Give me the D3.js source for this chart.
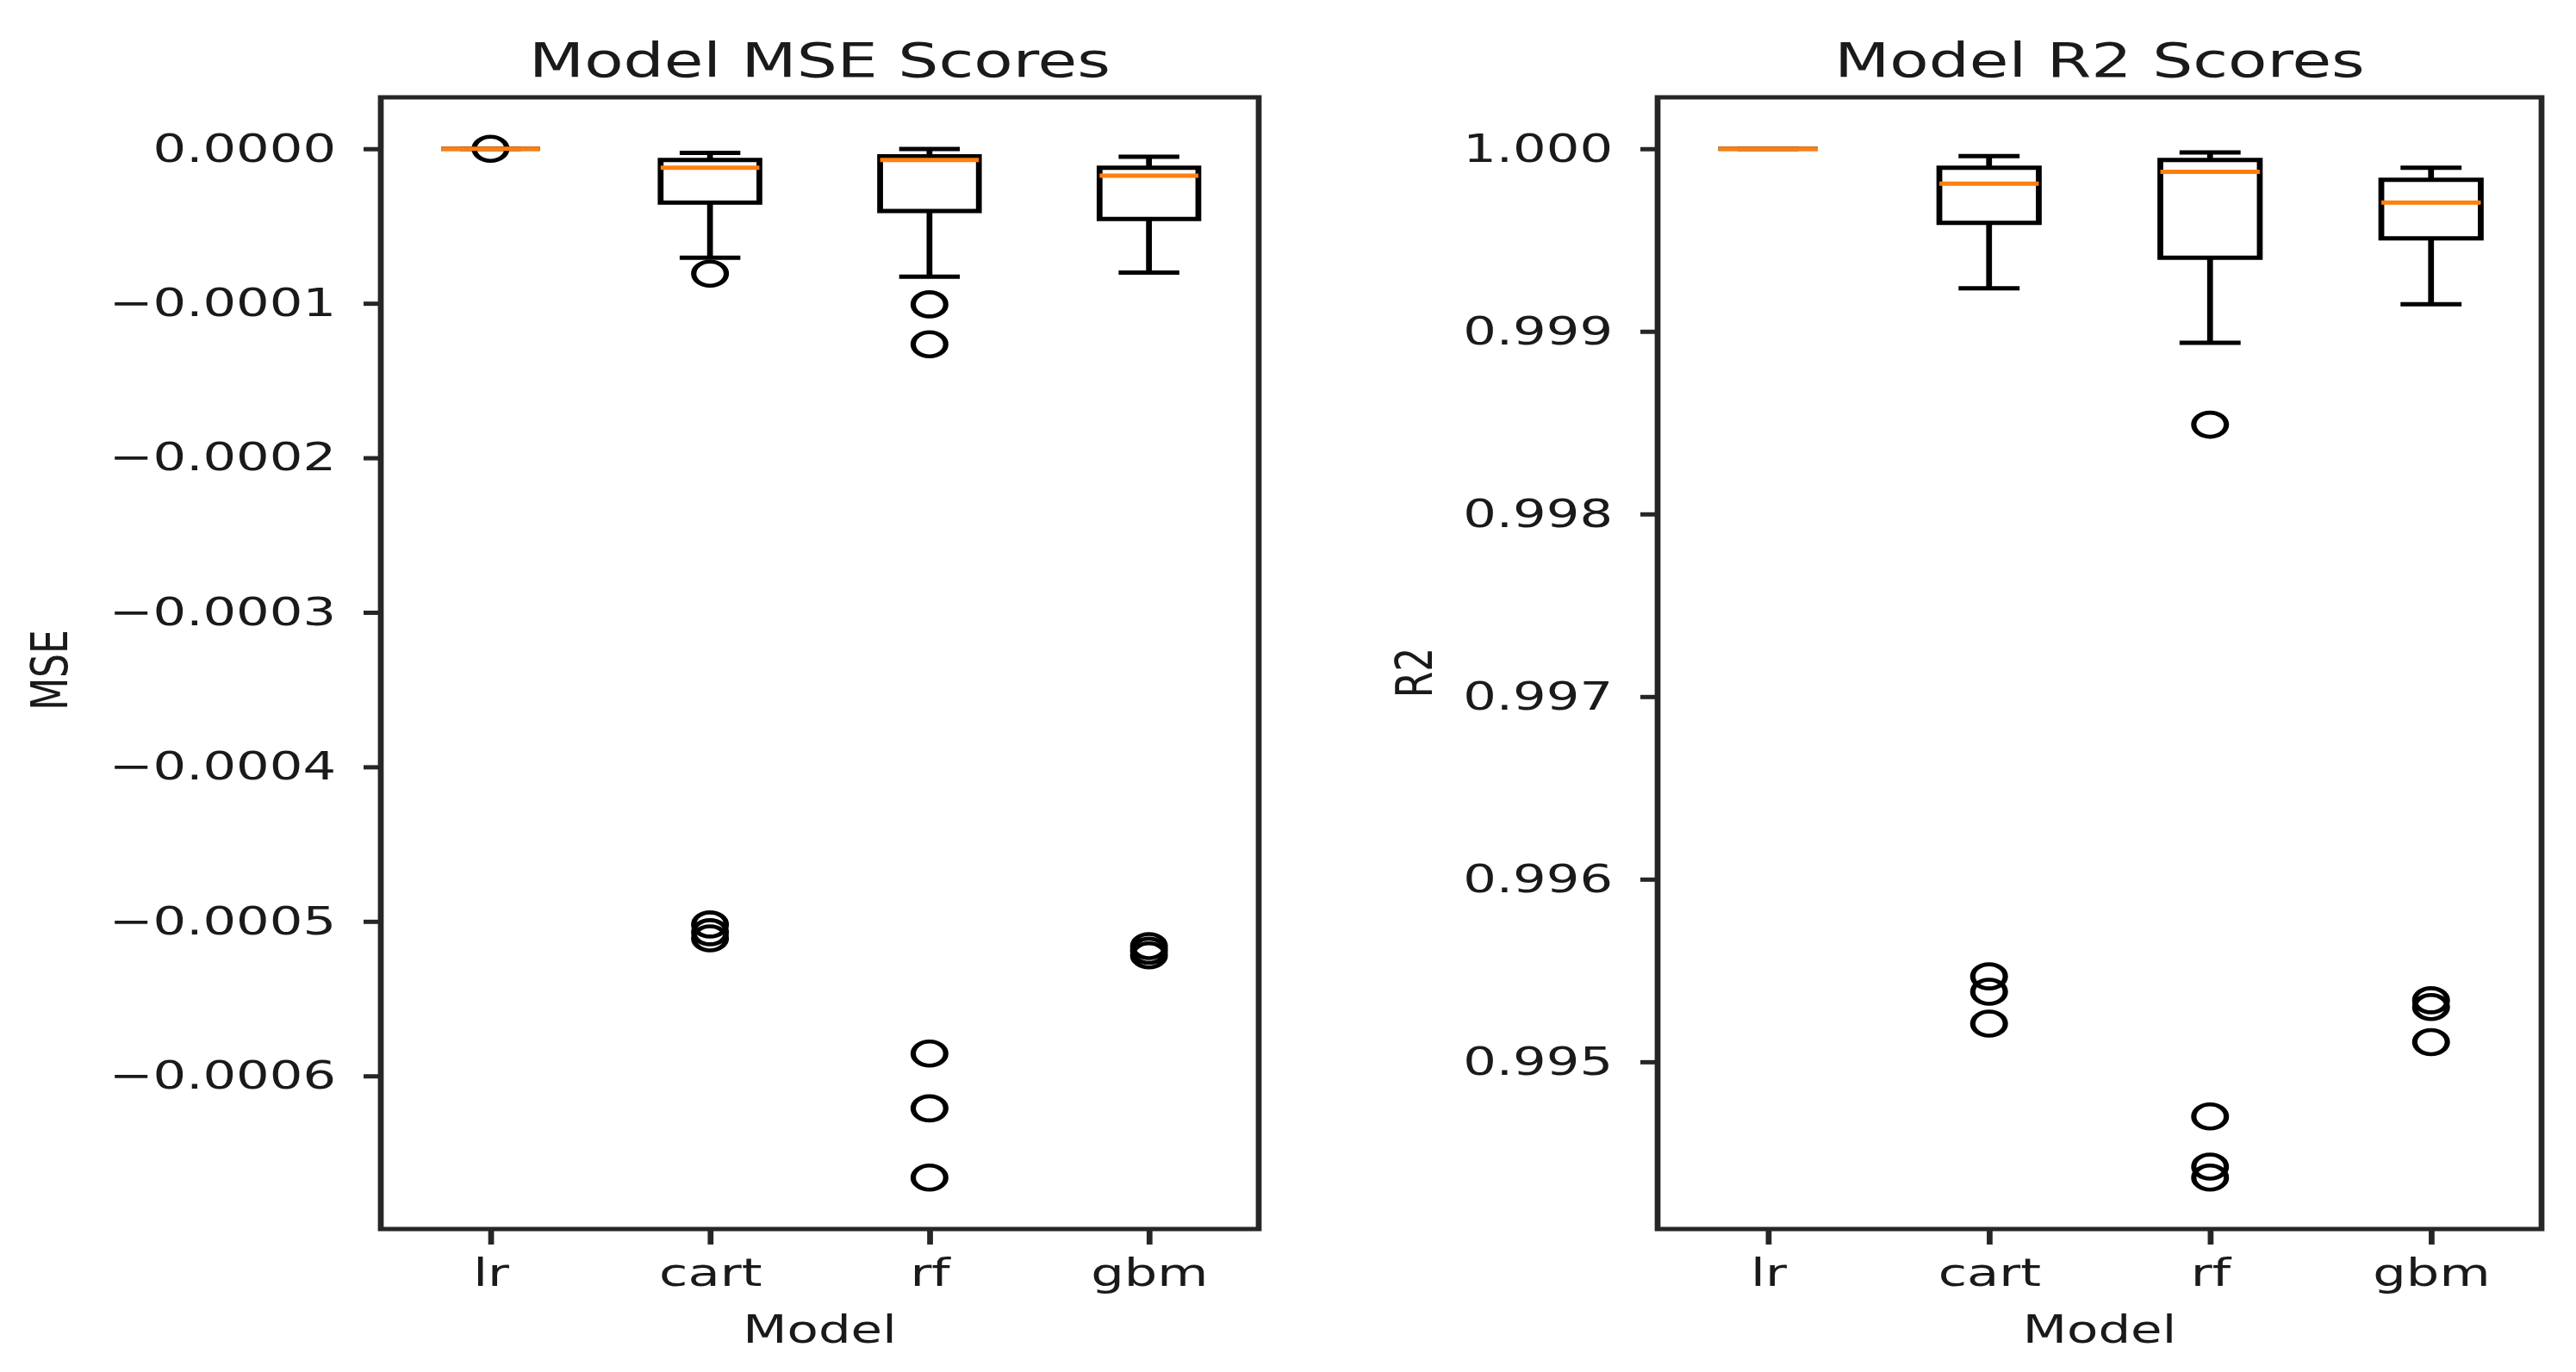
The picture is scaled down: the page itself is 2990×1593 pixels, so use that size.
<!DOCTYPE html>
<html>
<head>
<meta charset="utf-8">
<script src="https://cdn.jsdelivr.net/npm/d3@7"></script>
<style>
  body { margin: 0; background: #fff; }
  svg { display: block; }
  text { font-family: "DejaVu Sans", sans-serif; fill: #1a1a1a; }
</style>
</head>
<body>
<svg id="chart"></svg>
<script>
//**** DATA ****//
const models = ["lr", "cart", "rf", "gbm"];

// MSE box stats (neg mean squared error), one entry per model
const mseWhiskerLow  = [0, -0.0000705, -0.0000828, -0.0000802];
const mseQ1          = [0, -0.0000348, -0.0000403, -0.0000454];
const mseMedian      = [0, -0.0000123, -0.0000072, -0.0000174];
const mseQ3          = [0, -0.0000072, -0.0000049, -0.0000123];
const mseWhiskerHigh = [0, -0.0000026, -0.0000001, -0.0000052];
const mseOutliers = [
  [0],
  [-0.0000808, -0.000502, -0.000507, -0.000511],
  [-0.0001007, -0.0001265, -0.0005855, -0.000621, -0.0006658],
  [-0.000516, -0.000519, -0.000522]
];
const mseTicks = [0, -0.0001, -0.0002, -0.0003, -0.0004, -0.0005, -0.0006];

// R2 box stats
const r2WhiskerLow  = [1.0, 0.999236, 0.998937, 0.999149];
const r2Q1          = [1.0, 0.999594, 0.999403, 0.999509];
const r2Median      = [1.0, 0.999809, 0.999874, 0.999705];
const r2Q3          = [1.0, 0.999896, 0.999939, 0.999830];
const r2WhiskerHigh = [1.0, 0.999960, 0.999980, 0.999896];
const r2Outliers = [
  [],
  [0.995468, 0.995384, 0.995209],
  [0.998489, 0.994701, 0.994426, 0.994366],
  [0.995337, 0.995300, 0.995108]
];
const r2Ticks = [1.000, 0.999, 0.998, 0.997, 0.996, 0.995];

//**** LAYOUT ****//
// the picture is stretched sideways, so draw in a narrower viewBox and let it stretch
const SX = 1.35;
const W = 2990, H = 1593;
const plotTop = 113, plotBottom = 1427;
const lw = 5;

const svg = d3.select("#chart")
  .attr("width", W)
  .attr("height", H)
  .attr("viewBox", `0 0 ${W / SX} ${H}`)
  .attr("preserveAspectRatio", "none");

const panels = [
  { title: "Model MSE Scores", ylabel: "MSE", left: 442, right: 1461, labelX: 58, labelY: 778,
    wl: mseWhiskerLow, q1: mseQ1, med: mseMedian, q3: mseQ3, wh: mseWhiskerHigh, out: mseOutliers,
    ticks: mseTicks, fmt: d3.format(".4f") },
  { title: "Model R2 Scores", ylabel: "R2", left: 1924, right: 2950, labelX: 1231, labelY: 781,
    wl: r2WhiskerLow, q1: r2Q1, med: r2Median, q3: r2Q3, wh: r2WhiskerHigh, out: r2Outliers,
    ticks: r2Ticks, fmt: d3.format(".3f") }
];

panels.forEach(p => {
  const L = p.left / SX, R = p.right / SX;
  const x = d3.scaleLinear().domain([0.5, models.length + 0.5]).range([L, R]);
  const unit = x(1) - x(0);

  // matplotlib style autoscale with 5% margin
  const all = [].concat(p.wl, p.wh, ...p.out);
  const lo = d3.min(all), hi = d3.max(all);
  const pad = (hi - lo) * 0.05;
  const y = d3.scaleLinear().domain([lo - pad, hi + pad]).range([plotBottom, plotTop]);

  const g = svg.append("g");

  const boxes = g.selectAll(".box")
    .data(models)
    .enter()
    .append("g")
    .attr("class", "box");

  const half = 0.225 * unit, capHalf = 0.125 * unit;

  // box
  boxes.append("path")
    .attr("d", (d, i) => {
      const cx = x(i + 1);
      return `M${cx - half},${y(p.q1[i])}H${cx + half}V${y(p.q3[i])}H${cx - half}Z`;
    })
    .attr("fill", "none")
    .attr("stroke", "#000")
    .attr("stroke-width", lw);

  // whiskers
  boxes.append("path")
    .attr("d", (d, i) => {
      const cx = x(i + 1);
      return `M${cx},${y(p.q1[i])}V${y(p.wl[i])}M${cx},${y(p.q3[i])}V${y(p.wh[i])}`;
    })
    .attr("fill", "none")
    .attr("stroke", "#000")
    .attr("stroke-width", lw);

  // caps
  boxes.append("path")
    .attr("d", (d, i) => {
      const cx = x(i + 1);
      return `M${cx - capHalf},${y(p.wl[i])}H${cx + capHalf}M${cx - capHalf},${y(p.wh[i])}H${cx + capHalf}`;
    })
    .attr("fill", "none")
    .attr("stroke", "#000")
    .attr("stroke-width", lw)
    .attr("stroke-linecap", "square");

  // fliers
  boxes.selectAll("circle")
    .data((d, i) => p.out[i].map(v => ({ i: i, v: v })))
    .enter()
    .append("circle")
    .attr("cx", d => x(d.i + 1))
    .attr("cy", d => y(d.v))
    .attr("r", 14)
    .attr("fill", "none")
    .attr("stroke", "#000")
    .attr("stroke-width", 4.6);

  // median
  boxes.append("line")
    .attr("x1", (d, i) => x(i + 1) - half)
    .attr("x2", (d, i) => x(i + 1) + half)
    .attr("y1", (d, i) => y(p.med[i]))
    .attr("y2", (d, i) => y(p.med[i]))
    .attr("stroke", "#ff7f0e")
    .attr("stroke-width", lw);

  // axes
  const yAxis = g.append("g")
    .attr("transform", `translate(${L},0)`)
    .call(d3.axisLeft(y).tickValues(p.ticks).tickFormat(p.fmt).tickSize(14.8).tickPadding(23.7));
  yAxis.select(".domain").remove();
  yAxis.selectAll("line").attr("stroke", "#262626").attr("stroke-width", lw);
  yAxis.selectAll("text").attr("font-size", 45).attr("fill", "#1a1a1a").style("font-family", "DejaVu Sans");

  const xAxis = g.append("g")
    .attr("transform", `translate(0,${plotBottom})`)
    .call(d3.axisBottom(x).tickValues(d3.range(1, models.length + 1)).tickFormat(d => models[d - 1])
      .tickSize(18).tickPadding(16));
  xAxis.select(".domain").remove();
  xAxis.selectAll("line").attr("stroke", "#262626").attr("stroke-width", lw);
  xAxis.selectAll("text").attr("font-size", 45).attr("fill", "#1a1a1a").style("font-family", "DejaVu Sans");

  // spines
  g.append("rect")
    .attr("x", L).attr("y", plotTop)
    .attr("width", R - L).attr("height", plotBottom - plotTop)
    .attr("fill", "none")
    .attr("stroke", "#262626")
    .attr("stroke-width", lw);

  // titles and labels
  g.append("text")
    .attr("x", (L + R) / 2).attr("y", 89)
    .attr("text-anchor", "middle")
    .attr("font-size", 55)
    .text(p.title);

  g.append("text")
    .attr("x", (L + R) / 2).attr("y", 1559)
    .attr("text-anchor", "middle")
    .attr("font-size", 44)
    .text("Model");

  g.append("text")
    .attr("transform", `translate(${p.labelX},${p.labelY}) rotate(-90)`)
    .attr("text-anchor", "middle")
    .attr("font-size", 44)
    .text(p.ylabel);
});
</script>
</body>
</html>
